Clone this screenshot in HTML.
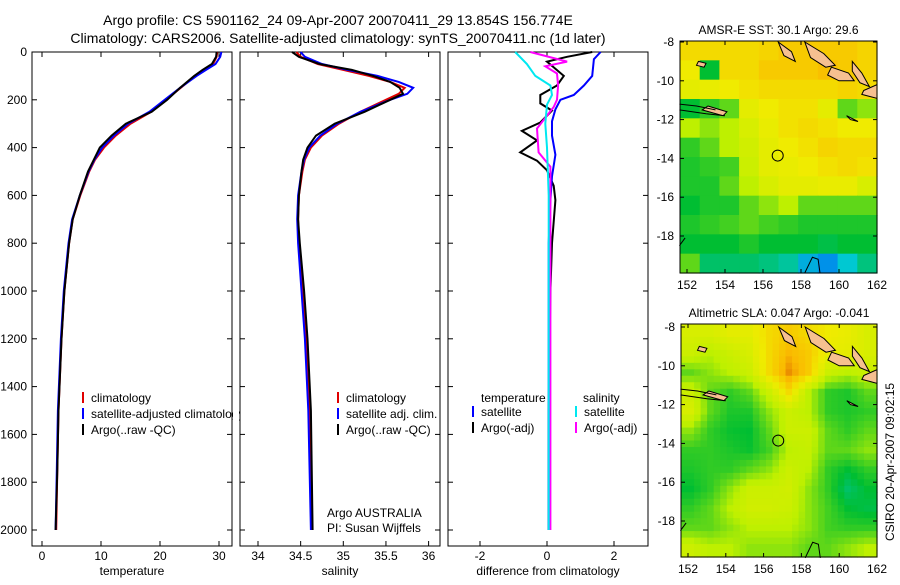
<!DOCTYPE html>
<html><head><meta charset="utf-8"><style>
body{margin:0;background:#fff;}
svg text{font-family:"Liberation Sans",sans-serif;fill:#000;}
</style></head><body>
<svg id="fig" width="900" height="580" xmlns="http://www.w3.org/2000/svg"></svg>
<script>
// ---------- data ----------
const tDepth=[0,20,50,75,100,150,200,250,300,350,400,450,500,600,700,800,1000,1200,1500,1750,2000];
const tClim=[29.7,29.6,29,27.5,26,23.5,21,18.5,15,12.5,10.5,9,8,6.5,5.2,4.6,3.8,3.3,2.8,2.6,2.4];
const tSat=[30.4,30.2,29.4,27.8,26.2,23.4,20.8,18.2,14.6,12.2,10.2,8.9,7.9,6.4,5.1,4.5,3.7,3.2,2.7,2.5,2.3];
const tArgo=[29.6,29.5,28.8,27.2,25.8,23.4,21.2,18.6,14.2,11.8,9.8,8.8,7.8,6.4,5.2,4.6,3.8,3.3,2.8,2.6,2.3];
const sDepth=[0,20,50,75,100,125,150,175,200,250,300,350,400,450,500,600,700,800,1000,1200,1500,2000];
const sClim=[34.45,34.5,34.7,35.0,35.3,35.55,35.72,35.65,35.5,35.2,34.95,34.75,34.62,34.55,34.52,34.48,34.47,34.48,34.52,34.56,34.6,34.63];
const sSat=[34.5,34.55,34.75,35.05,35.4,35.65,35.82,35.75,35.55,35.2,34.93,34.73,34.6,34.54,34.51,34.47,34.46,34.47,34.51,34.55,34.59,34.62];
const sArgo=[34.4,34.48,34.72,35.1,35.35,35.55,35.66,35.7,35.55,35.25,34.9,34.68,34.58,34.53,34.51,34.48,34.47,34.49,34.54,34.58,34.62,34.64];
const dBlueD=[0,30,100,140,180,200,240,290,350,430,520,620,800,1000,1500,2000];
const dBlue=[1.6,1.4,1.35,1.1,0.8,0.4,0.25,0.15,0.15,0.25,0.15,0.1,0.05,0.05,0.05,0.05];
const dBlackD=[0,20,40,100,140,180,215,245,295,330,370,420,455,495,560,620,800,1000,1500,2000];
const dBlack=[1.35,0.6,0.0,0.5,0.3,-0.2,-0.2,0.15,-0.2,-0.75,-0.3,-0.8,-0.3,0.0,0.2,0.25,0.15,0.1,0.05,0.05];
const dCyanD=[0,50,100,140,180,220,300,400,600,1000,1500,2000];
const dCyan=[-0.95,-0.6,-0.35,0.1,0.15,0.0,-0.05,0.0,0.05,0.05,0.05,0.05];
const dMagD=[0,40,60,90,140,200,230,320,420,480,600,1000,1500,2000];
const dMag=[-0.5,0.6,-0.05,0.3,0.33,0.3,0.2,-0.3,-0.25,0.1,0.1,0.1,0.1,0.1];
const depthTicks=[0,200,400,600,800,1000,1200,1400,1600,1800,2000];
const tTicks=[0,10,20,30];
const sTicks=[34,34.5,35,35.5,36];
const dTicks=[-2,0,2];
const latTicks=[-8,-10,-12,-14,-16,-18];
const lonTicks=[152,154,156,158,160,162];
const sstGrid=[
[.8,.8,.8,.8,.82,.85,.85,.85,.85,.82],
[.75,.35,.8,.8,.85,.85,.85,.88,.85,.82],
[.7,.72,.75,.78,.8,.8,.8,.8,.82,.8],
[.35,.4,.45,.7,.75,.78,.78,.7,.45,.5],
[.55,.5,.55,.65,.72,.78,.8,.78,.75,.75],
[.4,.45,.55,.62,.7,.75,.78,.82,.8,.8],
[.38,.4,.42,.6,.7,.72,.75,.78,.8,.78],
[.38,.38,.45,.55,.65,.7,.7,.72,.72,.65],
[.35,.38,.38,.45,.5,.55,.45,.45,.45,.45],
[.38,.4,.42,.45,.42,.4,.38,.38,.38,.38],
[.35,.35,.35,.38,.35,.35,.35,.33,.35,.35],
[.45,.3,.3,.3,.28,.25,.15,.1,.2,.28]];
const slaGrid=[
[.65,.65,.7,.7,.8,.85,.8,.75,.72,.65],
[.6,.55,.6,.65,.8,.9,.85,.72,.7,.65],
[.45,.5,.55,.6,.8,.95,.85,.6,.55,.6],
[.6,.45,.4,.45,.6,.8,.55,.4,.38,.45],
[.65,.45,.38,.38,.5,.6,.55,.4,.38,.4],
[.5,.4,.36,.35,.45,.6,.6,.45,.4,.45],
[.4,.4,.38,.36,.42,.55,.58,.45,.45,.5],
[.38,.4,.4,.45,.5,.6,.55,.4,.35,.4],
[.35,.4,.5,.6,.6,.62,.5,.4,.3,.35],
[.4,.45,.55,.62,.62,.6,.5,.42,.35,.33],
[.45,.45,.5,.55,.55,.55,.5,.42,.4,.4],
[.6,.55,.55,.5,.5,.5,.45,.45,.5,.55]];
const argoLon=156.774, argoLat=-13.854;

// ---------- helpers ----------
const NS="http://www.w3.org/2000/svg";
const svg=document.getElementById('fig');
function mk(tag,attrs,parent){const e=document.createElementNS(NS,tag);for(const k in attrs)e.setAttribute(k,attrs[k]);(parent||svg).appendChild(e);return e;}
function txt(s,x,y,size,anchor,parent){const t=mk('text',{x:x,y:y,'font-size':size,'text-anchor':anchor||'start'},parent);t.textContent=s;return t;}
const yD=d=>52+d*0.239;

function panel(name,x0,xscale,ticks,label,fmt){
  const g=mk('g',{});
  
  
  const r=mk('rect',{x:x0,y:52,width:200,height:494,fill:'#fff',stroke:'#000','stroke-width':1},g);
  
  
  depthTicks.forEach(d=>{const y=yD(d);mk('line',{x1:x0,x2:x0+5,y1:y,y2:y,stroke:'#000'},g);mk('line',{x1:x0+200,x2:x0+195,y1:y,y2:y,stroke:'#000'},g);
    if(x0<100){const t=txt(String(d),x0-5,y+4,12,'end',g);}});
  ticks.forEach(v=>{const x=xscale(v);mk('line',{x1:x,x2:x,y1:546,y2:541,stroke:'#000'},g);mk('line',{x1:x,x2:x,y1:52,y2:57,stroke:'#000'},g);
    const t=txt(fmt(v),x,560,12,'middle',g);});
  const l=txt(label,x0+100,575,12,'middle',g);
  
  
  return g;
}
function line(depths,vals,xs,color,name,w){
  const pts=depths.map((d,i)=>xs(vals[i]).toFixed(1)+','+yD(d).toFixed(1)).join(' ');
  const p=mk('polyline',{points:pts,fill:'none',stroke:color,'stroke-width':w||2});
  
  
}
function legend(x,y,color,label){
  const l=mk('line',{x1:x,x2:x,y1:y-10,y2:y+1,stroke:color,'stroke-width':2});
  
  
  const t=txt(label,x+8,y,12,'start');
  
  
}

// titles
const t1=txt('Argo profile: CS 5901162_24 09-Apr-2007 20070411_29 13.854S 156.774E',338,25,14,'middle');


const t2=txt('Climatology: CARS2006. Satellite-adjusted climatology: synTS_20070411.nc (1d later)',338,43,14,'middle');



// panel 1 temperature
const xT=v=>42+v*5.9;
panel('temperature-panel',32,xT,tTicks,'temperature',v=>String(v));
line(tDepth,tClim,xT,'#e00000','temperature-climatology-line');
line(tDepth,tSat,xT,'#0000ff','temperature-satellite-line');
line(tDepth,tArgo,xT,'#000','temperature-argo-line');
legend(83,402,'#e00000','climatology');
legend(83,418,'#0000ff','satellite-adjusted climatology');
legend(83,434,'#000','Argo(..raw -QC)');
const cov=mk('rect',{x:233,y:405,width:6,height:16,fill:'#fff'});


mk('line',{x1:232,x2:232,y1:400,y2:425,stroke:'#000'});

// panel 2 salinity
const xS=v=>258+(v-34)*85.3;
panel('salinity-panel',240,xS,sTicks,'salinity',v=>String(v));
line(sDepth,sClim,xS,'#e00000','salinity-climatology-line');
line(sDepth,sSat,xS,'#0000ff','salinity-satellite-line');
line(sDepth,sArgo,xS,'#000','salinity-argo-line');
legend(338,402,'#e00000','climatology');
legend(338,418,'#0000ff','satellite adj. clim.');
legend(338,434,'#000','Argo(..raw -QC)');
const a1=txt('Argo AUSTRALIA',327,517,12,'start');
const a2=txt('PI: Susan Wijffels',327,532,12,'start');

// panel 3 difference
const xDf=v=>547+v*33.5;
panel('difference-panel',448,xDf,dTicks,'difference from climatology',v=>String(v));
line(dBlackD,dBlack,xDf,'#000','temperature-argo-diff-line');
line(dBlueD,dBlue,xDf,'#0000ff','temperature-satellite-diff-line');
line(dMagD,dMag,xDf,'#ff00ff','salinity-argo-diff-line');
line(dCyanD,dCyan,xDf,'#00e8f0','salinity-satellite-diff-line');
const lt=txt('temperature',481,402,12);
const ls=txt('salinity',583,402,12);
legend(473,416,'#0000ff','satellite');
legend(473,432,'#000','Argo(-adj)');
legend(576,416,'#00e8f0','satellite');
legend(576,432,'#ff00ff','Argo(-adj)');

// ---------- maps ----------
const stops=[[0,[0,90,255]],[0.2,[0,200,210]],[0.35,[0,190,50]],[0.55,[190,240,0]],[0.75,[240,235,0]],[0.9,[250,185,0]],[1,[220,100,0]]];
function cmap(v){for(let i=1;i<stops.length;i++){if(v<=stops[i][0]){const a=stops[i-1],b=stops[i],f=(v-a[0])/(b[0]-a[0]);return 'rgb('+a[1].map((c,k)=>Math.round(c+(b[1][k]-c)*f)).join(',')+')';}}return 'rgb(220,100,0)';}
function map(name,x0,y0,w,h,grid,title,latY8,latPx,smooth){
  const g=mk('g',{});
  
  
  const rows=grid.length,cols=grid[0].length;
  const sub=smooth?3:1;
  const cw=w/(cols*sub),ch=h/(rows*sub);
  for(let r=0;r<rows*sub;r++)for(let c=0;c<cols*sub;c++){
    let v;
    if(smooth){const fr=Math.min(rows-1,Math.max(0,(r+0.5)/sub-0.5)),fc=Math.min(cols-1,Math.max(0,(c+0.5)/sub-0.5));
      const r0=Math.floor(fr),c0=Math.floor(fc),r1=Math.min(rows-1,r0+1),c1=Math.min(cols-1,c0+1),a=fr-r0,b=fc-c0;
      v=grid[r0][c0]*(1-a)*(1-b)+grid[r1][c0]*a*(1-b)+grid[r0][c1]*(1-a)*b+grid[r1][c1]*a*b;}
    else v=grid[r][c];
    const cell=mk('rect',{x:(x0+c*cw).toFixed(2),y:(y0+r*ch).toFixed(2),width:(cw+0.6).toFixed(2),height:(ch+0.6).toFixed(2),fill:cmap(v)},g);
    
    
  }
  const lonX=l=>x0+7+(l-152)*(w-7)/10;
  const latY=la=>latY8+(-8-la)*latPx;
  const isl=[[[158.2,-8],[159.2,-8.6],[159.8,-9.2],[159.3,-9.3],[158.5,-8.8]],[[159.6,-9.3],[160.5,-9.6],[160.8,-10],[160,-10],[159.4,-9.7]],[[160.7,-9],[161.2,-9.6],[161.6,-10.3],[161.1,-10.1],[160.7,-9.5]],[[161.3,-10.5],[162,-10.2],[162,-10.9],[161.2,-10.7]],[[156.8,-8],[157.5,-8.5],[157.7,-9],[157.1,-8.7]],[[153.1,-11.3],[154.1,-11.6],[153.9,-11.8],[152.8,-11.5]],[[152.6,-9],[153,-9.1],[152.9,-9.3],[152.5,-9.2]],[[160.4,-11.8],[161,-12.1],[160.6,-12]]];
  isl.forEach(p=>{const e=mk('polygon',{points:p.map(q=>lonX(q[0]).toFixed(1)+','+latY(q[1]).toFixed(1)).join(' '),fill:'#f6c090',stroke:'#000','stroke-width':1},g);
    });
  const cl=[[[151.6,-11.2],[152.5,-11.3],[153.5,-11.5]],[[151.6,-11.5],[153,-11.7],[154,-11.8]],[[151.6,-18.5],[151.9,-18.1]],[[158.2,-19.9],[158.6,-19.1],[158.9,-19.2],[159,-19.9]]];
  cl.forEach(p=>{const e=mk('polyline',{points:p.map(q=>lonX(q[0]).toFixed(1)+','+latY(q[1]).toFixed(1)).join(' '),fill:'none',stroke:'#000','stroke-width':1},g);
    });
  const ci=mk('circle',{cx:lonX(argoLon),cy:latY(argoLat),r:5.5,fill:'none',stroke:'#000','stroke-width':1},g);
  
  
  mk('rect',{x:x0,y:y0,width:w,height:h,fill:'none',stroke:'#000'},g);
  latTicks.forEach(la=>{const y=latY(la);mk('line',{x1:x0,x2:x0+4,y1:y,y2:y,stroke:'#000'},g);mk('line',{x1:x0+w,x2:x0+w-4,y1:y,y2:y,stroke:'#000'},g);
    const t=txt(String(la),x0-6,y+4,12,'end',g);});
  lonTicks.forEach(lo=>{const x=lonX(lo);mk('line',{x1:x,x2:x,y1:y0+h,y2:y0+h-4,stroke:'#000'},g);mk('line',{x1:x,x2:x,y1:y0,y2:y0+4,stroke:'#000'},g);
    const t=txt(String(lo),x,y0+h+16,12,'middle',g);});
  const tt=txt(title,x0+w/2,y0-7,12,'middle',g);
  
  
}
map('sst-map',680,41,197,232,sstGrid,'AMSR-E SST: 30.1  Argo: 29.6',42,19.4,false);
map('sla-map',681,324,196,233,slaGrid,'Altimetric SLA: 0.047  Argo: -0.041',327,19.4,true);
const cs=txt('CSIRO 20-Apr-2007 09:02:15',0,0,12,'middle');
cs.setAttribute('transform','translate(894,462) rotate(-90)');


</script>
</body></html>
